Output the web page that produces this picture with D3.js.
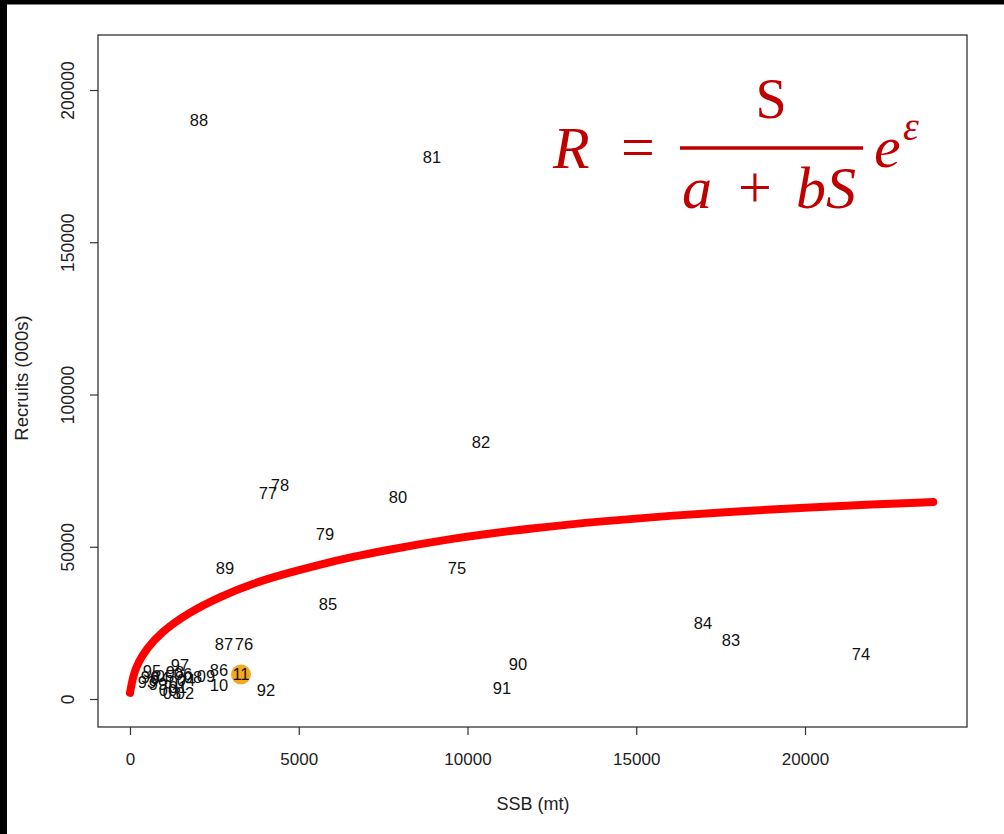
<!DOCTYPE html>
<html><head><meta charset="utf-8">
<script src="https://cdn.jsdelivr.net/npm/d3@7"></script>
<style>
html,body{margin:0;padding:0;background:#fff;}
</style></head>
<body>
<svg id="chart" width="1004" height="834"></svg>
<script>
// ---- data ----
const years = ["74","75","76","77","78","79","80","81","82","83","84","85","86","87","88","89","90","91","92",
  "93","94","95","96","97","98","99","00","01","02","03","04","05","06","07","08","09","10","11"];
const ssb = [21659,9689,3378,4089,4444,5778,7941,8948,10400,17807,16978,5867,2637,2785,2044,2815,11496,11022,4030,
  504,889,652,593,1481,1333,830,1126,1422,1630,1244,1659,1037,1570,1422,1867,2252,2637,3289];
const recruits = [14780,43020,18060,67650,70280,54190,66340,178000,84400,19380,24960,31200,9520,18060,190150,43020,11490,3610,2960,
  5580,6900,9200,7230,11170,8870,4930,2960,3940,1970,1970,6240,7550,8210,5580,7230,7550,4600,8210];
const highlightYear = "11";
// fitted curve
const curveSSB = [0,100,250,500,900,1700,2700,3650,4650,5650,6600,7600,8600,9600,10300,12000,14000,16000,18000,20000,22000,23800];
const curveR   = [2000,8000,12200,16600,21700,28200,33800,38000,41300,44200,46700,48900,50900,52700,53850,56200,58400,60200,61650,62850,63900,64700];
const xTicks = [0,5000,10000,15000,20000];
const yTicks = [0,50000,100000,150000,200000];
const xTitle = "SSB (mt)";
const yTitle = "Recruits (000s)";

const SANS = "'Liberation Sans', Arial, sans-serif";
const SERIF = "'Liberation Serif', 'DejaVu Serif', serif";

const svg = d3.select("#chart");
const W = 1004, H = 834;
svg.append("rect").attr("width",W).attr("height",H).attr("fill","#fff");
// black frame bands of the screenshot
svg.append("rect").attr("x",0).attr("y",0).attr("width",W).attr("height",4.5).attr("fill","#000");
svg.append("rect").attr("x",0).attr("y",0).attr("width",7).attr("height",H).attr("fill","#000");

const box = {l:98, r:967, t:35, b:727};
const x = d3.scaleLinear().domain([-948, 24800]).range([box.l, box.r]);
const y = d3.scaleLinear().domain([-9195, 218062]).range([box.b, box.t]);

// curve
const pts = curveSSB.map((s,i)=>[s,curveR[i]]);
svg.append("path")
  .datum(pts)
  .attr("d", d3.line().x(d=>x(d[0])).y(d=>y(d[1])).curve(d3.curveBasis))
  .attr("fill","none").attr("stroke","#ff0000").attr("stroke-width",8)
  .attr("stroke-linecap","round").attr("stroke-linejoin","round");

// highlight circle
const hi = years.indexOf(highlightYear);
svg.append("circle").attr("cx",x(ssb[hi])).attr("cy",y(recruits[hi])+0.5).attr("r",10).attr("fill","#f5a623");

// point labels
svg.append("g").selectAll("text").data(years).join("text")
  .attr("x",(d,i)=>x(ssb[i])).attr("y",(d,i)=>y(recruits[i]))
  .attr("dy","0.36em").attr("text-anchor","middle")
  .attr("font-size",16.5).attr("fill","#111").style("font-family",SANS)
  .text(d=>d);

// box
svg.append("rect").attr("x",box.l).attr("y",box.t).attr("width",box.r-box.l).attr("height",box.b-box.t)
  .attr("fill","none").attr("stroke","#333").attr("stroke-width",1.3);

// x axis
const gx = svg.append("g").attr("transform",`translate(0,${box.b})`)
  .call(d3.axisBottom(x).tickValues(xTicks).tickSize(8).tickPadding(18).tickFormat(d3.format("d")));
gx.select(".domain").remove();
gx.selectAll("line").attr("stroke","#333").attr("stroke-width",1.2);
gx.selectAll("text").attr("font-size",17).attr("fill","#222").style("font-family",SANS);

// y axis
const gy = svg.append("g").attr("transform",`translate(${box.l},0)`)
  .call(d3.axisLeft(y).tickValues(yTicks).tickSize(8).tickFormat(d3.format("d")));
gy.select(".domain").remove();
gy.selectAll("line").attr("stroke","#333").attr("stroke-width",1.2);
gy.selectAll("text").attr("font-size",17.5).attr("fill","#222").style("font-family",SANS)
  .attr("transform","rotate(-90)").attr("x",0).attr("y",-30).attr("dy","0.35em").attr("text-anchor","middle");

// axis titles
svg.append("text").attr("x",533).attr("y",804).attr("dy","0.35em").attr("text-anchor","middle")
  .attr("font-size",18).attr("fill","#222").style("font-family",SANS).text(xTitle);
svg.append("text").attr("transform","translate(22,378) rotate(-90)").attr("dy","0.35em").attr("text-anchor","middle")
  .attr("font-size",18.5).attr("fill","#222").style("font-family",SANS).text(yTitle);

// equation
const red = "#c00000";
const eq = svg.append("g");
function eqText(t, px, py, size, italic, anchor){
  return eq.append("text").attr("x",px).attr("y",py).attr("font-size",size)
    .attr("fill",red).style("font-family",SERIF).style("font-style",italic?"italic":"normal")
    .attr("text-anchor",anchor||"start").text(t);
}
eqText("R", 553, 168, 60, true);
eqText("=", 638, 167, 60, false, "middle");
eq.append("line").attr("x1",680).attr("x2",863).attr("y1",148).attr("y2",148).attr("stroke",red).attr("stroke-width",3.5);
eqText("S", 771, 118, 56, false, "middle");
eqText("a", 682, 208, 60, true);
eqText("+", 755, 207, 60, false, "middle");
eqText("bS", 796, 208, 60, true);
eqText("e", 874, 167, 60, true);
eqText("ε", 903, 140, 40, true);
</script>
</body></html>
